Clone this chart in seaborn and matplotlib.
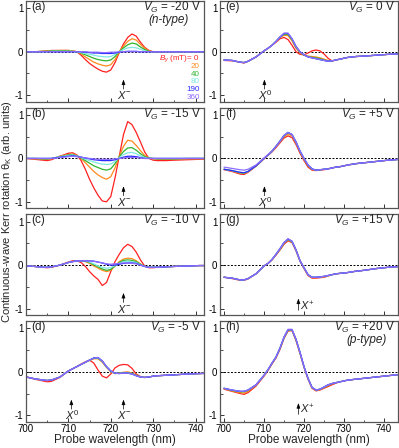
import matplotlib
matplotlib.use("Agg")
import matplotlib.pyplot as plt
import seaborn as sns
import pandas as pd
from matplotlib.ticker import MultipleLocator

# ---------------- data ----------------
wavelength = [700, 702, 704, 705, 706, 708, 710, 711, 712, 713, 714, 715, 716, 717, 718, 719, 720,
              721, 722, 723, 724, 725, 726, 727, 728, 729, 730, 731, 733, 735, 738, 741, 744]
fields = [0, 20, 40, 80, 190, 360]
field_colors = ["#ff2020", "#ff8a1e", "#2fb52f", "#7fe8e0", "#2a2aff", "#8c6cff"]
field_labels = ["$B_y$ (mT)= 0", "20", "40", "80", "190", "360"]

panel_letters = ["(a)", "(b)", "(c)", "(d)", "(e)", "(f)", "(g)", "(h)"]
gate_labels = ["$V_G$ = -20 V", "$V_G$ = -15 V", "$V_G$ = -10 V", "$V_G$ = -5 V",
               "$V_G$ = 0 V", "$V_G$ = +5 V", "$V_G$ = +15 V", "$V_G$ = +20 V"]

theta_a = {
    0:   [0, 0, 0.01, 0.02, 0.03, 0.03, 0.03, 0.02, 0.0, -0.08, -0.18, -0.27, -0.34, -0.40, -0.45, -0.47, -0.42, -0.25, -0.02, 0.18, 0.33, 0.41, 0.36, 0.22, 0.10, 0.03, 0.0, 0, 0, 0, 0, 0, 0],
    20:  [0, 0, 0.01, 0.02, 0.02, 0.03, 0.03, 0.02, 0.0, -0.05, -0.12, -0.18, -0.24, -0.28, -0.31, -0.33, -0.30, -0.18, -0.01, 0.13, 0.24, 0.30, 0.27, 0.17, 0.08, 0.02, 0, 0, 0, 0, 0, 0, 0],
    40:  [0, 0, 0.01, 0.01, 0.02, 0.02, 0.02, 0.01, 0.0, -0.03, -0.07, -0.11, -0.15, -0.18, -0.20, -0.21, -0.19, -0.11, 0.0, 0.09, 0.16, 0.20, 0.18, 0.11, 0.05, 0.01, 0, 0, 0, 0, 0, 0, 0],
    80:  [0, 0, 0, 0, 0.01, 0.01, 0.01, 0.01, 0.0, -0.02, -0.04, -0.06, -0.08, -0.10, -0.11, -0.12, -0.11, -0.06, 0.0, 0.05, 0.09, 0.10, 0.09, 0.06, 0.02, 0, 0, 0, 0, 0, 0, 0, 0],
    190: [0, 0, 0, 0, 0, 0, 0, 0, 0, 0, -0.01, -0.02, -0.03, -0.03, -0.04, -0.04, -0.04, -0.03, -0.01, 0.0, 0.01, 0.01, 0.01, 0, 0, 0, 0, 0, 0, 0, 0, 0, 0],
    360: [0, 0, 0, 0, 0, 0, 0, 0, 0, 0, 0, -0.01, -0.01, -0.01, -0.02, -0.02, -0.01, -0.01, 0, 0, 0, 0, 0, 0, 0, 0, 0, 0, 0, 0, 0, 0, 0],
}
theta_b = {
    0:   [0, -0.02, -0.04, -0.05, -0.03, 0.05, 0.12, 0.13, 0.08, -0.05, -0.25, -0.48, -0.68, -0.85, -0.98, -1.0, -0.88, -0.45, 0.05, 0.55, 0.85, 0.78, 0.60, 0.38, 0.15, 0.0, -0.04, -0.05, -0.05, -0.04, -0.03, -0.02, -0.01],
    20:  [0, -0.01, -0.02, -0.02, -0.01, 0.05, 0.09, 0.10, 0.07, 0.0, -0.10, -0.20, -0.30, -0.38, -0.44, -0.48, -0.42, -0.22, 0.05, 0.28, 0.42, 0.40, 0.30, 0.18, 0.07, 0.01, -0.01, -0.02, -0.02, -0.02, -0.01, -0.01, 0],
    40:  [0, 0, -0.01, -0.01, 0, 0.04, 0.08, 0.09, 0.06, 0.01, -0.05, -0.11, -0.17, -0.21, -0.25, -0.27, -0.24, -0.12, 0.04, 0.16, 0.24, 0.25, 0.19, 0.11, 0.04, 0.01, 0, -0.01, -0.01, -0.01, 0, 0, 0],
    80:  [0, 0, 0, 0, 0, 0.04, 0.07, 0.08, 0.06, 0.02, -0.02, -0.05, -0.08, -0.11, -0.13, -0.14, -0.13, -0.07, 0.02, 0.09, 0.13, 0.14, 0.11, 0.06, 0.02, 0, 0, 0, 0, 0, 0, 0, 0],
    190: [0, 0, 0, 0, 0, 0.03, 0.05, 0.06, 0.05, 0.03, 0.01, -0.01, -0.03, -0.04, -0.05, -0.05, -0.05, -0.03, 0.0, 0.03, 0.05, 0.05, 0.04, 0.02, 0.0, 0, 0, 0, 0, 0, 0, 0, 0],
    360: [0, 0, 0, 0, 0, 0.02, 0.04, 0.05, 0.04, 0.03, 0.01, 0, -0.01, -0.02, -0.02, -0.02, -0.02, -0.01, 0, 0.01, 0.02, 0.02, 0.02, 0.01, 0, 0, 0, 0, 0, 0, 0, 0, 0],
}
theta_c = {
    0:   [-0.02, -0.03, -0.05, -0.06, -0.05, 0.0, 0.07, 0.10, 0.10, 0.06, -0.03, -0.15, -0.25, -0.33, -0.47, -0.40, -0.15, 0.08, 0.25, 0.40, 0.48, 0.43, 0.30, 0.12, -0.02, -0.06, -0.06, -0.05, -0.04, -0.03, -0.02, -0.01, -0.01],
    20:  [-0.02, -0.03, -0.05, -0.05, -0.04, 0.0, 0.06, 0.08, 0.10, 0.10, 0.08, 0.04, -0.02, -0.07, -0.12, -0.15, -0.12, -0.02, 0.08, 0.14, 0.16, 0.15, 0.10, 0.03, -0.03, -0.05, -0.05, -0.05, -0.04, -0.03, -0.02, -0.01, -0.01],
    40:  [-0.02, -0.03, -0.05, -0.05, -0.04, 0.0, 0.06, 0.08, 0.10, 0.10, 0.09, 0.06, 0.01, -0.04, -0.09, -0.12, -0.10, -0.02, 0.06, 0.11, 0.12, 0.11, 0.08, 0.02, -0.03, -0.05, -0.05, -0.05, -0.04, -0.03, -0.02, -0.01, -0.01],
    80:  [-0.02, -0.03, -0.05, -0.05, -0.04, 0.0, 0.06, 0.08, 0.10, 0.10, 0.10, 0.07, 0.03, -0.02, -0.05, -0.07, -0.06, -0.01, 0.04, 0.08, 0.09, 0.08, 0.06, 0.01, -0.03, -0.05, -0.05, -0.05, -0.04, -0.03, -0.02, -0.01, -0.01],
    190: [-0.02, -0.03, -0.05, -0.05, -0.04, 0.0, 0.06, 0.08, 0.10, 0.10, 0.10, 0.10, 0.09, 0.07, 0.05, 0.02, 0.0, 0.0, 0.02, 0.04, 0.05, 0.05, 0.04, 0.0, -0.03, -0.05, -0.05, -0.05, -0.04, -0.03, -0.02, -0.01, -0.01],
    360: [-0.02, -0.03, -0.05, -0.05, -0.04, 0.0, 0.06, 0.08, 0.10, 0.10, 0.10, 0.10, 0.09, 0.07, 0.05, 0.03, 0.02, 0.03, 0.04, 0.05, 0.05, 0.04, 0.03, 0.0, -0.03, -0.05, -0.05, -0.05, -0.04, -0.03, -0.02, -0.01, -0.01],
}
theta_d = {
    0:   [-0.11, -0.17, -0.21, -0.23, -0.22, -0.13, 0.02, 0.07, 0.12, 0.18, 0.23, 0.27, 0.20, 0.04, -0.10, -0.14, -0.05, 0.09, 0.15, 0.17, 0.16, 0.08, -0.05, -0.11, -0.13, -0.12, -0.10, -0.09, -0.08, -0.07, -0.05, -0.04, -0.03],
    20:  [-0.12, -0.16, -0.19, -0.20, -0.19, -0.12, 0.02, 0.07, 0.12, 0.17, 0.22, 0.26, 0.30, 0.30, 0.22, 0.10, 0.0, -0.04, -0.03, -0.01, 0.0, -0.03, -0.07, -0.11, -0.13, -0.12, -0.10, -0.09, -0.08, -0.07, -0.05, -0.04, -0.03],
    40:  [-0.12, -0.16, -0.19, -0.20, -0.19, -0.12, 0.02, 0.07, 0.12, 0.17, 0.22, 0.27, 0.31, 0.31, 0.24, 0.11, 0.01, -0.04, -0.03, -0.02, -0.02, -0.04, -0.08, -0.12, -0.13, -0.12, -0.10, -0.09, -0.08, -0.07, -0.05, -0.04, -0.03],
    80:  [-0.12, -0.16, -0.19, -0.20, -0.19, -0.12, 0.02, 0.07, 0.12, 0.17, 0.22, 0.27, 0.32, 0.32, 0.25, 0.12, 0.02, -0.03, -0.04, -0.03, -0.03, -0.05, -0.09, -0.12, -0.13, -0.12, -0.10, -0.09, -0.08, -0.07, -0.05, -0.04, -0.03],
    190: [-0.12, -0.16, -0.19, -0.20, -0.19, -0.12, 0.02, 0.07, 0.12, 0.17, 0.22, 0.27, 0.32, 0.33, 0.25, 0.12, 0.02, -0.03, -0.04, -0.03, -0.03, -0.05, -0.09, -0.12, -0.13, -0.12, -0.10, -0.09, -0.08, -0.07, -0.05, -0.04, -0.03],
    360: [-0.12, -0.16, -0.19, -0.20, -0.19, -0.12, 0.02, 0.07, 0.12, 0.17, 0.22, 0.27, 0.32, 0.33, 0.25, 0.12, 0.02, -0.03, -0.04, -0.03, -0.03, -0.05, -0.09, -0.12, -0.13, -0.12, -0.10, -0.09, -0.08, -0.07, -0.05, -0.04, -0.03],
}
theta_e = {
    0:   [-0.20, -0.21, -0.24, -0.26, -0.22, -0.12, 0.02, 0.08, 0.15, 0.22, 0.30, 0.33, 0.28, 0.15, 0.0, -0.06, -0.07, -0.03, 0.02, 0.04, 0.02, -0.05, -0.15, -0.21, -0.19, -0.17, -0.15, -0.13, -0.11, -0.10, -0.08, -0.06, -0.05],
    20:  [-0.19, -0.20, -0.24, -0.25, -0.22, -0.12, 0.02, 0.08, 0.15, 0.23, 0.33, 0.38, 0.37, 0.25, 0.08, -0.03, -0.08, -0.10, -0.11, -0.12, -0.14, -0.17, -0.20, -0.21, -0.19, -0.17, -0.15, -0.13, -0.11, -0.10, -0.08, -0.06, -0.05],
    40:  [-0.19, -0.20, -0.24, -0.25, -0.22, -0.12, 0.02, 0.08, 0.15, 0.24, 0.34, 0.40, 0.40, 0.28, 0.10, -0.01, -0.08, -0.11, -0.13, -0.14, -0.16, -0.19, -0.21, -0.21, -0.19, -0.17, -0.15, -0.13, -0.11, -0.10, -0.08, -0.06, -0.05],
    80:  [-0.19, -0.20, -0.24, -0.25, -0.22, -0.12, 0.02, 0.08, 0.15, 0.24, 0.34, 0.42, 0.42, 0.30, 0.12, 0.0, -0.07, -0.12, -0.14, -0.16, -0.18, -0.20, -0.22, -0.21, -0.19, -0.17, -0.15, -0.13, -0.11, -0.10, -0.08, -0.06, -0.05],
    190: [-0.19, -0.20, -0.24, -0.25, -0.22, -0.12, 0.02, 0.08, 0.15, 0.24, 0.34, 0.42, 0.42, 0.30, 0.12, 0.0, -0.07, -0.12, -0.14, -0.16, -0.18, -0.20, -0.22, -0.21, -0.19, -0.17, -0.15, -0.13, -0.11, -0.10, -0.08, -0.06, -0.05],
    360: [-0.19, -0.20, -0.24, -0.25, -0.22, -0.12, 0.02, 0.08, 0.15, 0.24, 0.34, 0.43, 0.43, 0.30, 0.12, 0.0, -0.07, -0.12, -0.14, -0.16, -0.18, -0.20, -0.22, -0.21, -0.19, -0.17, -0.15, -0.13, -0.11, -0.10, -0.08, -0.06, -0.05],
}
theta_f = {
    0:   [-0.26, -0.30, -0.36, -0.37, -0.32, -0.18, -0.01, 0.07, 0.15, 0.25, 0.36, 0.47, 0.52, 0.48, 0.32, 0.12, -0.05, -0.20, -0.27, -0.28, -0.27, -0.26, -0.24, -0.22, -0.20, -0.19, -0.17, -0.15, -0.12, -0.10, -0.07, -0.04, -0.02],
    20:  [-0.25, -0.29, -0.34, -0.35, -0.31, -0.17, 0.0, 0.08, 0.16, 0.27, 0.38, 0.50, 0.56, 0.52, 0.35, 0.15, -0.02, -0.17, -0.25, -0.27, -0.26, -0.25, -0.24, -0.22, -0.20, -0.19, -0.17, -0.15, -0.12, -0.10, -0.07, -0.04, -0.02],
    40:  [-0.25, -0.28, -0.33, -0.34, -0.30, -0.17, 0.0, 0.08, 0.17, 0.28, 0.40, 0.52, 0.59, 0.55, 0.37, 0.16, -0.01, -0.16, -0.25, -0.27, -0.26, -0.25, -0.24, -0.22, -0.20, -0.19, -0.17, -0.15, -0.12, -0.10, -0.07, -0.04, -0.02],
    80:  [-0.25, -0.28, -0.32, -0.33, -0.30, -0.17, 0.0, 0.08, 0.17, 0.28, 0.40, 0.53, 0.60, 0.55, 0.38, 0.17, 0.0, -0.15, -0.24, -0.27, -0.26, -0.25, -0.24, -0.22, -0.20, -0.19, -0.17, -0.15, -0.12, -0.10, -0.07, -0.04, -0.02],
    190: [-0.25, -0.28, -0.32, -0.33, -0.30, -0.17, 0.0, 0.08, 0.17, 0.28, 0.40, 0.53, 0.60, 0.55, 0.38, 0.17, 0.0, -0.15, -0.24, -0.27, -0.26, -0.25, -0.24, -0.22, -0.20, -0.19, -0.17, -0.15, -0.12, -0.10, -0.07, -0.04, -0.02],
    360: [-0.20, -0.23, -0.26, -0.27, -0.25, -0.15, 0.01, 0.09, 0.17, 0.28, 0.40, 0.53, 0.60, 0.55, 0.38, 0.17, 0.0, -0.15, -0.24, -0.27, -0.26, -0.25, -0.24, -0.22, -0.20, -0.19, -0.17, -0.15, -0.12, -0.10, -0.07, -0.04, -0.02],
}
theta_g = {
    0:   [-0.28, -0.31, -0.35, -0.35, -0.32, -0.20, -0.02, 0.04, 0.12, 0.23, 0.35, 0.48, 0.56, 0.52, 0.33, 0.09, -0.08, -0.24, -0.30, -0.30, -0.29, -0.28, -0.25, -0.22, -0.20, -0.19, -0.18, -0.17, -0.14, -0.12, -0.08, -0.05, -0.03],
    20:  [-0.28, -0.30, -0.34, -0.34, -0.31, -0.20, -0.02, 0.04, 0.12, 0.24, 0.36, 0.50, 0.58, 0.53, 0.34, 0.10, -0.07, -0.23, -0.29, -0.29, -0.28, -0.27, -0.25, -0.22, -0.20, -0.19, -0.18, -0.17, -0.14, -0.12, -0.08, -0.05, -0.03],
    40:  [-0.28, -0.30, -0.34, -0.34, -0.31, -0.20, -0.02, 0.04, 0.13, 0.25, 0.37, 0.51, 0.59, 0.54, 0.35, 0.10, -0.06, -0.22, -0.28, -0.28, -0.27, -0.26, -0.24, -0.22, -0.20, -0.19, -0.18, -0.17, -0.14, -0.12, -0.08, -0.05, -0.03],
    80:  [-0.28, -0.30, -0.34, -0.34, -0.31, -0.20, -0.02, 0.04, 0.13, 0.25, 0.38, 0.52, 0.60, 0.55, 0.35, 0.10, -0.06, -0.22, -0.28, -0.28, -0.27, -0.26, -0.24, -0.22, -0.20, -0.19, -0.18, -0.17, -0.14, -0.12, -0.08, -0.05, -0.03],
    190: [-0.28, -0.30, -0.34, -0.34, -0.31, -0.20, -0.02, 0.04, 0.13, 0.25, 0.38, 0.52, 0.60, 0.55, 0.35, 0.10, -0.06, -0.22, -0.28, -0.28, -0.27, -0.26, -0.24, -0.22, -0.20, -0.19, -0.18, -0.17, -0.14, -0.12, -0.08, -0.05, -0.03],
    360: [-0.28, -0.30, -0.34, -0.34, -0.31, -0.20, -0.02, 0.04, 0.13, 0.25, 0.38, 0.52, 0.61, 0.55, 0.35, 0.10, -0.06, -0.22, -0.28, -0.28, -0.27, -0.26, -0.24, -0.22, -0.20, -0.19, -0.18, -0.17, -0.14, -0.12, -0.08, -0.05, -0.03],
}
theta_h = {
    0:   [-0.40, -0.45, -0.50, -0.52, -0.48, -0.33, -0.10, 0.03, 0.18, 0.32, 0.52, 0.77, 0.94, 0.95, 0.72, 0.42, 0.10, -0.17, -0.38, -0.44, -0.42, -0.38, -0.34, -0.30, -0.26, -0.23, -0.21, -0.19, -0.17, -0.15, -0.12, -0.09, -0.06],
    20:  [-0.39, -0.44, -0.48, -0.49, -0.45, -0.31, -0.09, 0.04, 0.19, 0.33, 0.53, 0.78, 0.95, 0.96, 0.73, 0.43, 0.11, -0.16, -0.37, -0.43, -0.41, -0.37, -0.32, -0.28, -0.25, -0.23, -0.21, -0.19, -0.17, -0.15, -0.12, -0.09, -0.06],
    40:  [-0.38, -0.43, -0.46, -0.46, -0.43, -0.30, -0.08, 0.05, 0.20, 0.34, 0.54, 0.79, 0.96, 0.97, 0.74, 0.44, 0.12, -0.15, -0.36, -0.42, -0.40, -0.36, -0.31, -0.27, -0.25, -0.23, -0.21, -0.19, -0.17, -0.15, -0.12, -0.09, -0.06],
    80:  [-0.38, -0.42, -0.45, -0.45, -0.42, -0.30, -0.08, 0.05, 0.20, 0.34, 0.55, 0.80, 0.97, 0.97, 0.75, 0.45, 0.12, -0.15, -0.36, -0.42, -0.40, -0.35, -0.30, -0.27, -0.25, -0.23, -0.21, -0.19, -0.17, -0.15, -0.12, -0.09, -0.06],
    190: [-0.38, -0.42, -0.45, -0.45, -0.42, -0.30, -0.08, 0.05, 0.20, 0.34, 0.55, 0.80, 0.97, 0.97, 0.75, 0.45, 0.12, -0.15, -0.36, -0.42, -0.40, -0.35, -0.30, -0.27, -0.25, -0.23, -0.21, -0.19, -0.17, -0.15, -0.12, -0.09, -0.06],
    360: [-0.38, -0.42, -0.45, -0.45, -0.42, -0.30, -0.08, 0.05, 0.20, 0.34, 0.55, 0.80, 0.98, 0.98, 0.75, 0.45, 0.12, -0.15, -0.36, -0.42, -0.40, -0.35, -0.30, -0.27, -0.25, -0.23, -0.21, -0.19, -0.17, -0.15, -0.12, -0.09, -0.06],
}
panels = [theta_a, theta_b, theta_c, theta_d, theta_e, theta_f, theta_g, theta_h]

# exciton markers: (wavelength, label)
exciton_marks = [
    [(723.0, "$X^{-}$")],
    [(723.0, "$X^{-}$")],
    [(723.0, "$X^{-}$")],
    [(710.7, "$X^{0}$"), (723.0, "$X^{-}$")],
    [(710.1, "$X^{0}$")],
    [(710.1, "$X^{0}$")],
    [(718.6, "$X^{+}$")],
    [(718.6, "$X^{+}$")],
]
type_labels = {0: "(n-type)", 7: "(p-type)"}

# ---------------- style ----------------
sns.set_theme(style="white")
plt.rcParams["font.family"] = ["Liberation Sans", "DejaVu Sans"]
plt.rcParams["mathtext.fontset"] = "custom"
plt.rcParams["mathtext.rm"] = "Liberation Sans"
plt.rcParams["mathtext.it"] = "Liberation Sans:italic"
plt.rcParams["mathtext.bf"] = "Liberation Sans:bold"
plt.rcParams["axes.unicode_minus"] = False

fig, axes = plt.subplots(
    4, 2, figsize=(3.99, 4.48), dpi=100,
    gridspec_kw=dict(left=0.0652, right=0.9975, top=0.9978, bottom=0.0587,
                     wspace=0.09, hspace=0.06))

arrow_style = dict(arrowstyle="-|>,head_length=0.25,head_width=0.09",
                   lw=0.5, color="black", shrinkA=0, shrinkB=0)

for idx, theta in enumerate(panels):
    col, row = divmod(idx, 4)
    ax = axes[row, col]
    rows = []
    for f in fields:
        for w, v in zip(wavelength, theta[f]):
            rows.append({"wl": w, "theta": v, "field": f})
    df = pd.DataFrame(rows)
    ax.axhline(0, color="black", lw=0.7, ls=(0, (2.0, 1.6)), zorder=1)
    sns.lineplot(data=df, x="wl", y="theta", hue="field", hue_order=fields,
                 palette=field_colors, linewidth=0.9, legend=False, ax=ax,
                 estimator=None, sort=True, zorder=2)
    if col == 0:
        ax.set_xlim(700, 742)
    else:
        ax.set_xlim(699, 743.5)
    ax.set_ylim(-1.15, 1.17)
    ax.xaxis.set_major_locator(MultipleLocator(10))
    ax.xaxis.set_minor_locator(MultipleLocator(5))
    ax.yaxis.set_major_locator(MultipleLocator(1))
    ax.yaxis.set_minor_locator(MultipleLocator(0.5))
    ax.tick_params(which="major", direction="in", length=3, width=0.7,
                   labelsize=7, pad=2, bottom=True, left=True, colors="#333333",
                   labelcolor="black")
    ax.tick_params(which="minor", direction="in", length=1.8, width=0.6,
                   bottom=True, left=True, colors="#333333")
    for sp in ax.spines.values():
        sp.set_color("#555555")
        sp.set_linewidth(0.9)
    ax.set_ylabel("")
    if row == 3:
        ax.set_xlabel("Probe wavelength (nm)", fontsize=8.5, labelpad=0)
    else:
        ax.set_xlabel("")
        ax.tick_params(labelbottom=False)

    ax.text(0.03, 0.94, panel_letters[idx], transform=ax.transAxes,
            ha="left", va="center", fontsize=8.5)
    ax.text(0.985, 0.935, gate_labels[idx], transform=ax.transAxes,
            ha="right", va="center", fontsize=8.5)
    if idx in type_labels:
        ax.text(0.69 if idx == 0 else 0.71, 0.81, type_labels[idx],
                transform=ax.transAxes, ha="left", va="center",
                fontsize=8.5, style="italic")

    for wl, lab in exciton_marks[idx]:
        if "+" in lab:
            tip, base, ly = (-0.77, -1.04, -0.96) if idx == 6 else (-0.72, -0.98, -0.86)
            ax.annotate("", xy=(wl, tip), xytext=(wl, base), arrowprops=arrow_style)
            ax.text(wl + 0.5, ly, lab, ha="left", va="center", fontsize=8)
        else:
            ax.annotate("", xy=(wl, -0.64), xytext=(wl, -0.86), arrowprops=arrow_style)
            ax.text(wl + 0.3, -1.0, lab, ha="center", va="center", fontsize=8)

# B-field legend in panel (a)
ax_a = axes[0, 0]
leg_y = [0.43, 0.352, 0.274, 0.196, 0.118, 0.04]
for lab, c, y in zip(field_labels, field_colors, leg_y):
    ax_a.text(0.975, y, lab, transform=ax_a.transAxes, ha="right", va="center",
              fontsize=5.8, color=c)

fig.text(0.018, (0.9978 + 0.0587) / 2,
         "Continuous-wave Kerr rotation θ$_{\\rm K}$ (arb. units)",
         rotation=90, ha="center", va="center", fontsize=8)

fig.savefig("out.png", dpi=100)
